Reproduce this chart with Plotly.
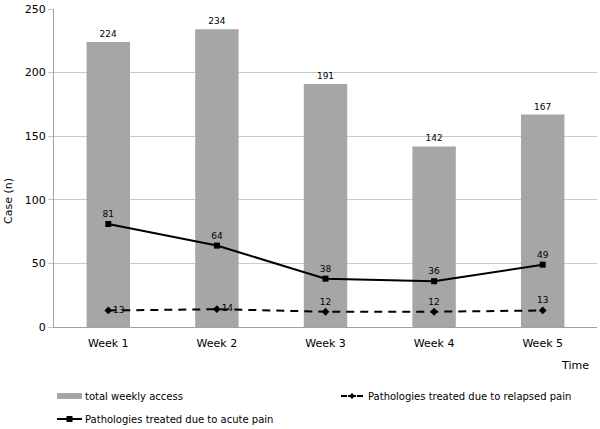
import plotly.graph_objects as go

weeks = ["Week 1", "Week 2", "Week 3", "Week 4", "Week 5"]
total_access = [224, 234, 191, 142, 167]
acute_pain = [81, 64, 38, 36, 49]
relapsed_pain = [13, 14, 12, 12, 13]
y_ticks = [0, 50, 100, 150, 200, 250]

FONT = "DejaVu Sans"
W, H = 600, 429
# plot area in screen pixels
PL, PR, PT, PB = 54, 597, 9, 327
L = PL
R = W - PR
T = PT
B = H - PB
pw = PR - PL
ph = PB - PT

def px2x(px):
    return (px - PL) / pw

def py2y(py):
    return (PB - py) / ph

fig = go.Figure()
fig.add_trace(go.Bar(
    x=weeks, y=total_access, name="total weekly access",
    marker=dict(color="#a6a6a6", line=dict(width=0)),
    width=0.4,
    text=[str(v) for v in total_access], textposition="outside",
    textfont=dict(family=FONT, size=9, color="#000000"),
    cliponaxis=False,
))
fig.add_trace(go.Scatter(
    x=weeks, y=relapsed_pain, name="Pathologies treated due to relapsed pain",
    mode="lines+markers+text",
    line=dict(color="#000000", width=2, dash="8px,6px"),
    marker=dict(symbol="diamond", size=6, color="#000000"),
    text=[str(v) for v in relapsed_pain],
    textposition=["middle right", "middle right", "top center", "top center", "top center"],
    textfont=dict(family=FONT, size=9, color="#000000"),
    cliponaxis=False,
))
fig.add_trace(go.Scatter(
    x=weeks, y=acute_pain, name="Pathologies treated due to acute pain",
    mode="lines+markers+text",
    line=dict(color="#000000", width=2),
    marker=dict(symbol="square", size=6, color="#000000"),
    text=[str(v) for v in acute_pain], textposition="top center",
    textfont=dict(family=FONT, size=9, color="#000000"),
    cliponaxis=False,
))

shapes = []
annotations = []

def note(text, px, py, size=10, anchor="left", angle=0):
    annotations.append(dict(text=text, xref="paper", yref="paper",
                            x=px2x(px), y=py2y(py), xanchor=anchor, yanchor="middle",
                            textangle=angle, showarrow=False,
                            font=dict(family=FONT, size=size, color="#000000")))

note("Case (n)", 8, 201, size=11, anchor="center", angle=-90)
note("Time", 575, 365, size=11, anchor="center")

shapes.append(dict(type="rect", xref="paper", yref="paper",
                   x0=px2x(57), x1=px2x(82), y0=py2y(393), y1=py2y(399),
                   fillcolor="#a6a6a6", line=dict(width=0)))
note("total weekly access", 83, 396)

shapes.append(dict(type="line", xref="paper", yref="paper",
                   x0=px2x(57), x1=px2x(82), y0=py2y(419), y1=py2y(419),
                   line=dict(color="#000000", width=2)))
shapes.append(dict(type="rect", xref="paper", yref="paper",
                   x0=px2x(66.5), x1=px2x(72.5), y0=py2y(416), y1=py2y(422),
                   fillcolor="#000000", line=dict(width=0)))
note("Pathologies treated due to acute pain", 83, 419)

shapes.append(dict(type="line", xref="paper", yref="paper",
                   x0=px2x(341), x1=px2x(347), y0=py2y(396), y1=py2y(396),
                   line=dict(color="#000000", width=2)))
shapes.append(dict(type="line", xref="paper", yref="paper",
                   x0=px2x(357), x1=px2x(363), y0=py2y(396), y1=py2y(396),
                   line=dict(color="#000000", width=2)))
shapes.append(dict(type="line", xref="paper", yref="paper",
                   x0=px2x(348), x1=px2x(356), y0=py2y(396), y1=py2y(396),
                   line=dict(color="#000000", width=2)))
cx, cy = 352, 396
shapes.append(dict(type="path", xref="paper", yref="paper",
                   path=f"M {px2x(cx-3)},{py2y(cy)} L {px2x(cx)},{py2y(cy-3)} L {px2x(cx+3)},{py2y(cy)} L {px2x(cx)},{py2y(cy+3)} Z",
                   fillcolor="#000000", line=dict(width=0)))
note("Pathologies treated due to relapsed pain", 366, 396)

fig.update_layout(
    width=W, height=H,
    margin=dict(l=L, r=R, t=T, b=B, autoexpand=False),
    plot_bgcolor="#ffffff", paper_bgcolor="#ffffff",
    showlegend=False,
    font=dict(family=FONT, size=11, color="#000000"),
    shapes=shapes, annotations=annotations,
    xaxis=dict(showline=True, linecolor="#a0a0a0", linewidth=1, ticks="",
               ticklabelstandoff=6,
               tickfont=dict(family=FONT, size=11, color="#000000"), showgrid=False),
    yaxis=dict(range=[0, 250], tickvals=y_ticks, showline=True, linecolor="#a0a0a0",
               linewidth=1, gridcolor="#c8c8c8", gridwidth=1, zeroline=False,
               tickfont=dict(family=FONT, size=11, color="#000000"),
               ticks="outside", ticklen=5, tickcolor="#c8c8c8",
               ticklabeloverflow="allow"),
)

fig.write_html("out.html", config={"displayModeBar": False},
               post_script="document.body.style.margin='0px';document.body.style.overflow='hidden';")
